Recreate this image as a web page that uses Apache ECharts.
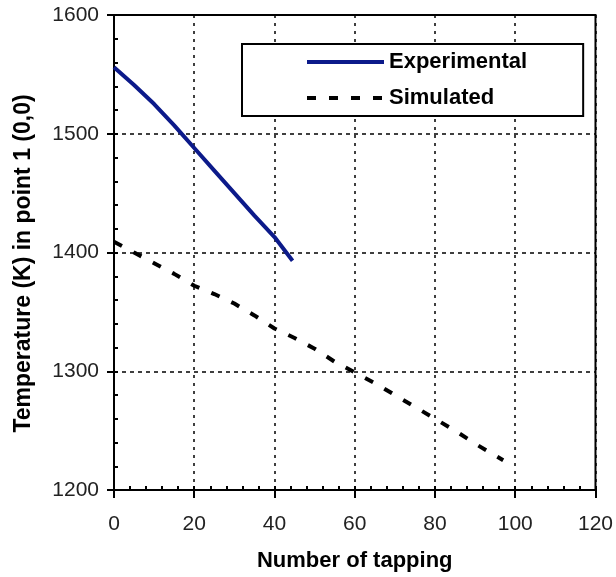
<!DOCTYPE html>
<html>
<head>
<meta charset="utf-8">
<script src="https://cdn.jsdelivr.net/npm/echarts@6/dist/echarts.min.js"></script>
<style>
  html, body { margin: 0; padding: 0; background: #fff; }
  #chart { width: 616px; height: 577px; }
</style>
</head>
<body>
<div id="chart"></div>
<script>
// values
const tapExp = [0, 5, 10, 15, 20, 25, 30, 35, 40, 44.5];
const tempExp = [1556, 1541, 1525, 1507, 1488, 1469, 1450, 1431, 1413, 1393];

const tapSim = [0, 5, 10, 15, 20, 25, 30, 35, 40, 45, 50, 55, 60, 65, 70, 75, 80, 85, 90, 97];
const tempSim = [1409, 1400, 1391, 1382, 1372, 1365, 1357, 1347, 1336, 1328,
  1319, 1308, 1299, 1290, 1280, 1270, 1260, 1250, 1239, 1225];

const xTicks = { min: 0, max: 120, step: 20, minor: 4 };
const yTicks = { min: 1200, max: 1600, step: 100, minor: 20 };

const FONT = "'Liberation Sans', Arial, sans-serif";
const INK = "#000";
const NAVY = "#0c1a8a";

const zip = (xs, ys) => xs.map((x, i) => [x, ys[i]]);

const chart = echarts.init(document.getElementById("chart"), null, { renderer: "canvas" });

// minor ticks point inward while major ticks point out, so a second
// label-less axis per direction carries them
const minorAxis = (t, pos) => ({
  type: "value", position: pos, min: t.min, max: t.max, interval: t.minor,
  axisLine: { show: true, lineStyle: { color: INK, opacity: 0 } },
  axisLabel: { show: false }, splitLine: { show: false },
  axisTick: { show: true, inside: true, length: 4, lineStyle: { color: INK, width: 2 } },
});

chart.setOption({
  animation: false,
  backgroundColor: "#fff",
  grid: {
    left: 114, right: 19, top: 15, bottom: 85,
    show: true, borderColor: INK, borderWidth: 2,
  },
  legend: {
    orient: "vertical", left: 242, top: 44,
    padding: [6, 56, 6, 63], itemGap: 12,
    itemWidth: 77, itemHeight: 14,
    backgroundColor: "#fff", borderColor: INK, borderWidth: 2,
    itemStyle: { opacity: 0 },
    lineStyle: { width: "inherit" },
    textStyle: { fontFamily: FONT, fontSize: 22, fontWeight: "bold", color: INK, lineHeight: 24 },
    data: ["Experimental", "Simulated"],
  },
  xAxis: [
    {
      type: "value", position: "bottom",
      min: xTicks.min, max: xTicks.max, interval: xTicks.step,
      name: "Number of tapping", nameLocation: "middle", nameGap: 60,
      nameTextStyle: { fontFamily: FONT, fontSize: 22, fontWeight: "bold", color: INK },
      axisLine: { lineStyle: { color: INK, width: 2 } },
      axisTick: { show: true, length: 8, lineStyle: { color: INK, width: 2 } },
      axisLabel: { fontFamily: FONT, fontSize: 21, color: "#222", margin: 24 },
      splitLine: { show: true, lineStyle: { color: INK, width: 1.5, type: [3, 5] } },
    },
    minorAxis(xTicks, "bottom"),
  ],
  yAxis: [
    {
      type: "value", position: "left",
      min: yTicks.min, max: yTicks.max, interval: yTicks.step,
      name: "Temperature (K) in point 1 (0,0)", nameLocation: "middle", nameGap: 79,
      nameTextStyle: {
        fontFamily: FONT, fontSize: 23, fontWeight: "bold", color: INK,
        padding: [0, 22, 0, 0],
      },
      axisLine: { lineStyle: { color: INK, width: 2 } },
      axisTick: { show: true, length: 7, lineStyle: { color: INK, width: 2 } },
      axisLabel: { fontFamily: FONT, fontSize: 21, color: "#222", margin: 15, formatter: (v) => String(v) },
      splitLine: { show: true, lineStyle: { color: INK, width: 1.5, type: [4, 4] } },
    },
    minorAxis(yTicks, "left"),
  ],
  series: [
    {
      name: "Experimental", type: "line", data: zip(tapExp, tempExp),
      showSymbol: false, symbol: "none",
      lineStyle: { color: NAVY, width: 4 }, itemStyle: { color: NAVY }, z: 3,
    },
    {
      name: "Simulated", type: "line", data: zip(tapSim, tempSim),
      showSymbol: false, symbol: "none",
      lineStyle: { color: INK, width: 4, type: [9, 13] }, itemStyle: { color: INK }, z: 3,
    },
  ],
});
</script>
</body>
</html>
